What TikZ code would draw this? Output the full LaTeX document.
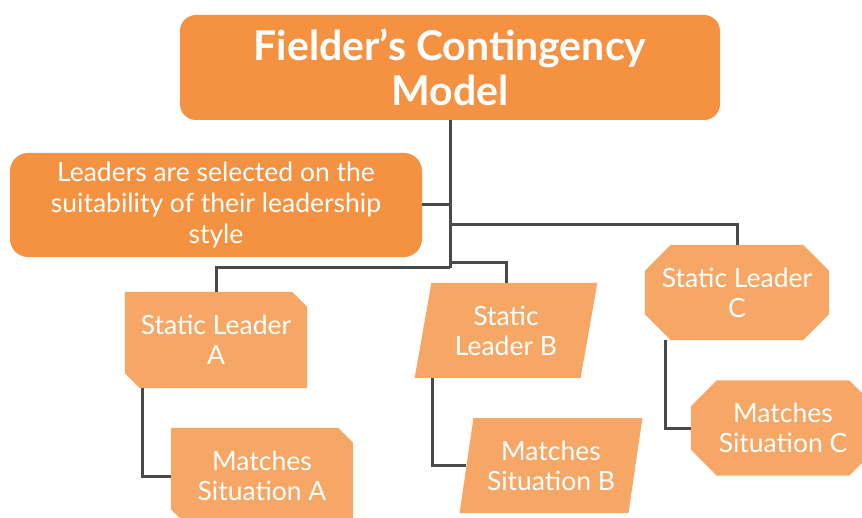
\documentclass[tikz,border=0pt]{standalone}
\usepackage{fontspec}
\setmainfont{Lato}
\usetikzlibrary{shapes.geometric, backgrounds, positioning}
\definecolor{darkorange}{RGB}{245,146,66}
\definecolor{lightorange}{RGB}{247,167,101}
\definecolor{linegray}{RGB}{74,74,77}
\tikzstyle{titlebox} = [rectangle, rounded corners=16pt, minimum width=540pt, minimum height=105pt, fill=darkorange, text=white, align=center, font=\fontsize{41}{45}\selectfont\bfseries]
\tikzstyle{leaderbox} = [rectangle, rounded corners=18pt, minimum width=412pt, minimum height=104pt, fill=darkorange, text=white, align=center, font=\fontsize{26.5}{31}\selectfont]
\tikzstyle{snipbox} = [rectangle, minimum width=182pt, minimum height=96pt, inner sep=0pt, text=white, align=center, font=\fontsize{26.5}{30}\selectfont]
\tikzstyle{slantbox} = [trapezium, trapezium left angle=77, trapezium right angle=103, trapezium stretches=true, minimum width=183pt, minimum height=95pt, inner sep=0pt, fill=lightorange, text=white, align=center, font=\fontsize{26.5}{30}\selectfont]
\tikzstyle{octbox} = [rectangle, minimum width=184pt, minimum height=95pt, inner sep=0pt, text=white, align=center, font=\fontsize{26.5}{30}\selectfont]
\tikzstyle{link} = [line width=3pt, draw=linegray]

\begin{document}
\begin{tikzpicture}[x=1pt, y=-1pt]
		\useasboundingbox (0,0) rectangle (862,518);
		\node (model) [titlebox] at (450,67.5) {Fielder’s Contingency\\Model};
		\node (leaders) [leaderbox] at (216,205) {Leaders are selected on the\\suitability of their leadership\\style};
		\node (staticA) [snipbox] at (216,340) {Static Leader\\A};
		\node (staticB) [slantbox] at (506,330.5) {Static\\Leader B};
		\node (staticC) [octbox] at (737,292.5) {Static Leader\\C};
		\node (matchA) [snipbox] at (262,476) {Matches\\Situation A};
		\node (matchB) [slantbox] at (551,465.5) {Matches\\Situation B};
		\node (matchC) [octbox] at (783,428) {Matches\\Situation C};
		\coordinate (hub) at (450,268);
		\coordinate (busB) at (450,263);
		\coordinate (busC) at (450,225);
		% cut corners behind the texts
		\begin{scope}[on background layer]
			\foreach \n in {staticA, matchA}
				\fill [lightorange] (\n.north west) -- ([xshift=-15pt]\n.north east) -- ([yshift=-15pt]\n.north east) -- (\n.south east) -- ([xshift=15pt]\n.south west) -- ([yshift=15pt]\n.south west) -- cycle;
			\foreach \n in {staticC, matchC}
				\fill [lightorange] ([xshift=26pt]\n.north west) -- ([xshift=-26pt]\n.north east) -- ([yshift=-26pt]\n.north east) -- ([yshift=26pt]\n.south east) -- ([xshift=-26pt]\n.south east) -- ([xshift=26pt]\n.south west) -- ([yshift=26pt]\n.south west) -- ([yshift=-26pt]\n.north west) -- cycle;
		\end{scope}
		% tree from the title
		\draw [link] (model.south) -- (hub);
		\draw [link] (leaders.east) -- (leaders.east -| model.south);
		\draw [link] (busC) -| (staticC.north);
		\draw [link] (busB) -| (staticB.north);
		\draw [link] (hub) -| (staticA.north);
		% leaders to situations
		\draw [link] ([xshift=-74pt]staticA.south) |- (matchA.west);
		\draw [link] ([xshift=-74pt]staticB.south) |- (matchB.west);
		\draw [link] ([xshift=-72pt]staticC.south) |- (matchC.west);
	\end{tikzpicture}
\end{document}
